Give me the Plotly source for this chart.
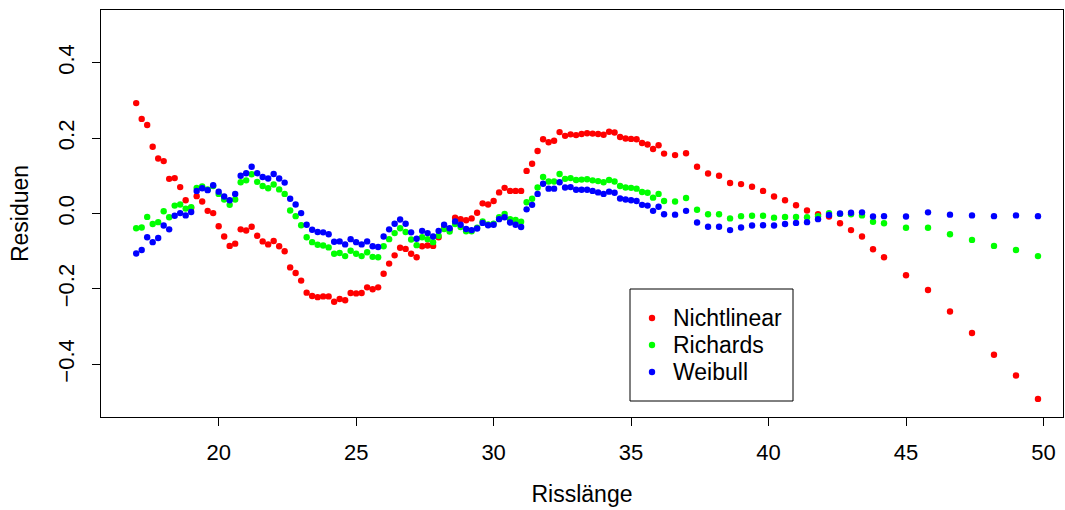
import plotly.graph_objects as go

# Risslänge values (x grid)
risslaenge = [
    17.0, 17.2, 17.4, 17.6, 17.8, 18.0, 18.2, 18.4, 18.6, 18.8,
    19.0, 19.2, 19.4, 19.6, 19.8, 20.0, 20.2, 20.4, 20.6, 20.8,
    21.0, 21.2, 21.4, 21.6, 21.8, 22.0, 22.2, 22.4, 22.6, 22.8,
    23.0, 23.2, 23.4, 23.6, 23.8, 24.0, 24.2, 24.4, 24.6, 24.8,
    25.0, 25.2, 25.4, 25.6, 25.8, 26.0, 26.2, 26.4, 26.6, 26.8,
    27.0, 27.2, 27.4, 27.6, 27.8, 28.0, 28.2, 28.4, 28.6, 28.8,
    29.0, 29.2, 29.4, 29.6, 29.8, 30.0, 30.2, 30.4, 30.6, 30.8,
    31.0, 31.2, 31.4, 31.6, 31.8, 32.0, 32.2, 32.4, 32.6, 32.8,
    33.0, 33.2, 33.4, 33.6, 33.8, 34.0, 34.2, 34.4, 34.6, 34.8,
    35.0, 35.2, 35.4, 35.6, 35.8, 36.0, 36.2,
    36.6, 37.0, 37.4, 37.8, 38.2, 38.6, 39.0, 39.4, 39.8, 40.2,
    40.6, 41.0, 41.4, 41.8, 42.2, 42.6, 43.0, 43.4, 43.8, 44.2,
    45.0, 45.8, 46.6, 47.4, 48.2, 49.0, 49.8,
]

nichtlinear = [
    0.293, 0.251, 0.235, 0.177, 0.146, 0.139, 0.092, 0.094, 0.070, 0.035,
    0.015, 0.046, 0.032, 0.007, 0.001, -0.034, -0.061, -0.086, -0.080, -0.042,
    -0.045, -0.035, -0.059, -0.074, -0.082, -0.073, -0.087, -0.100, -0.143, -0.158,
    -0.178, -0.210, -0.219, -0.222, -0.220, -0.220, -0.234, -0.227, -0.230, -0.211,
    -0.212, -0.211, -0.196, -0.201, -0.196, -0.160, -0.133, -0.111, -0.091, -0.094,
    -0.107, -0.116, -0.087, -0.085, -0.086, -0.063, -0.038, -0.042, -0.011, -0.015,
    -0.018, -0.013, 0.002, 0.027, 0.024, 0.033, 0.056, 0.068, 0.060, 0.060,
    0.060, 0.113, 0.132, 0.166, 0.197, 0.189, 0.193, 0.216, 0.206, 0.210,
    0.208, 0.211, 0.213, 0.212, 0.211, 0.209, 0.217, 0.215, 0.203, 0.199,
    0.198, 0.197, 0.187, 0.183, 0.171, 0.181, 0.159,
    0.155, 0.160, 0.124, 0.106, 0.100, 0.081, 0.078, 0.071, 0.060, 0.045,
    0.035, 0.022, 0.008, -0.002, -0.008, -0.026, -0.044, -0.061, -0.095, -0.116,
    -0.164, -0.203, -0.260, -0.317, -0.375, -0.430, -0.492,
]

richards = [
    -0.039, -0.037, -0.009, -0.028, -0.023, 0.006, -0.010, 0.021, 0.024, 0.013,
    0.017, 0.068, 0.072, 0.064, 0.073, 0.052, 0.037, 0.023, 0.037, 0.083,
    0.088, 0.104, 0.084, 0.073, 0.067, 0.077, 0.064, 0.052, 0.008, -0.007,
    -0.031, -0.063, -0.076, -0.083, -0.085, -0.090, -0.107, -0.105, -0.113, -0.099,
    -0.107, -0.113, -0.103, -0.115, -0.116, -0.087, -0.068, -0.052, -0.039, -0.049,
    -0.069, -0.084, -0.063, -0.068, -0.076, -0.059, -0.041, -0.048, -0.028, -0.036,
    -0.047, -0.047, -0.038, -0.021, -0.029, -0.027, -0.010, -0.001, -0.015, -0.017,
    -0.022, 0.030, 0.039, 0.069, 0.097, 0.085, 0.085, 0.105, 0.092, 0.094,
    0.089, 0.090, 0.091, 0.088, 0.086, 0.083, 0.089, 0.085, 0.073, 0.069,
    0.068, 0.066, 0.057, 0.055, 0.042, 0.052, 0.033,
    0.032, 0.041, 0.010, -0.002, -0.002, -0.013, -0.007, -0.006, -0.006, -0.011,
    -0.009, -0.009, -0.010, -0.007, 0.001, -0.001, -0.002, -0.005, -0.022, -0.026,
    -0.038, -0.038, -0.055, -0.070, -0.086, -0.097, -0.113,
]

weibull = [
    -0.106, -0.097, -0.063, -0.076, -0.065, -0.032, -0.042, -0.006, 0.001, -0.005,
    0.004, 0.060, 0.067, 0.062, 0.075, 0.058, 0.045, 0.035, 0.052, 0.100,
    0.107, 0.124, 0.107, 0.097, 0.093, 0.105, 0.093, 0.082, 0.039, 0.024,
    0.001, -0.030, -0.043, -0.049, -0.050, -0.055, -0.075, -0.074, -0.082, -0.068,
    -0.076, -0.082, -0.074, -0.087, -0.089, -0.061, -0.042, -0.027, -0.016, -0.027,
    -0.050, -0.067, -0.046, -0.052, -0.061, -0.046, -0.030, -0.039, -0.021, -0.030,
    -0.041, -0.044, -0.040, -0.025, -0.031, -0.030, -0.015, -0.010, -0.024, -0.030,
    -0.036, 0.011, 0.023, 0.052, 0.079, 0.066, 0.066, 0.083, 0.069, 0.070,
    0.063, 0.063, 0.063, 0.060, 0.056, 0.052, 0.058, 0.055, 0.040, 0.037,
    0.035, 0.033, 0.023, 0.021, 0.007, 0.018, -0.002,
    -0.003, 0.007, -0.024, -0.035, -0.035, -0.044, -0.037, -0.032, -0.031, -0.032,
    -0.028, -0.025, -0.023, -0.015, -0.004, 0.000, 0.002, 0.003, -0.008, -0.007,
    -0.008, 0.003, -0.003, -0.005, -0.007, -0.005, -0.007,
]

series_names = ["Nichtlinear", "Richards", "Weibull"]
series_colors = ["#FF0000", "#00FF00", "#0000FF"]
x_ticks = [20, 25, 30, 35, 40, 45, 50]
y_ticks = [-0.4, -0.2, 0.0, 0.2, 0.4]
y_ticktext = ["\u22120.4", "\u22120.2", "0.0", "0.2", "0.4"]

FONT = "Liberation Sans, Arial, Helvetica, sans-serif"
FS = 22      # tick labels
FS_T = 23    # axis titles and legend

W, H = 1065, 510
ML, MR, MT, MB = 101, 2, 10, 93
PW, PH = W - ML - MR, H - MT - MB


def px_x(p):
    return (p - ML) / PW


def px_y(p):
    return (H - MB - p) / PH


fig = go.Figure()
for name, vals, col in zip(series_names, [nichtlinear, richards, weibull], series_colors):
    fig.add_trace(go.Scatter(
        x=risslaenge, y=vals, mode="markers", name=name,
        marker=dict(color=col, size=6.4, line=dict(width=0)),
        showlegend=False,
    ))

# legend box (R-style) drawn in paper coordinates
shapes = [dict(type="rect", xref="paper", yref="paper",
               x0=px_x(630), x1=px_x(793), y0=px_y(401), y1=px_y(289),
               line=dict(color="black", width=1), fillcolor="white", layer="above")]
annotations = []
row_y = [318, 345, 372]
for name, col, ry in zip(series_names, series_colors, row_y):
    r = 3.2
    shapes.append(dict(type="circle", xref="paper", yref="paper",
                       x0=px_x(652 - r), x1=px_x(652 + r),
                       y0=px_y(ry + r), y1=px_y(ry - r),
                       line=dict(width=0), fillcolor=col, layer="above"))
    annotations.append(dict(xref="paper", yref="paper", x=px_x(671), y=px_y(ry),
                            xanchor="left", yanchor="middle", text=name,
                            showarrow=False,
                            font=dict(family=FONT, size=FS_T, color="black")))

fig.update_layout(
    width=W, height=H,
    margin=dict(l=ML, r=MR, t=MT, b=MB),
    paper_bgcolor="white", plot_bgcolor="white",
    font=dict(family=FONT, size=FS, color="black"),
    showlegend=False,
    shapes=shapes, annotations=annotations,
)
fig.update_xaxes(
    range=[15.72, 50.71], tickvals=x_ticks,
    ticks="outside", ticklen=8, tickwidth=1, tickcolor="black",
    ticklabelstandoff=8,
    showline=True, linecolor="black", linewidth=1, mirror=True,
    showgrid=False, zeroline=False,
    title=dict(text="Risslänge", font=dict(family=FONT, size=FS_T), standoff=21),
    tickfont=dict(family=FONT, size=FS),
)
fig.update_yaxes(
    range=[-0.54, 0.54], tickvals=y_ticks, ticktext=y_ticktext,
    tickangle=-90,
    ticks="outside", ticklen=8, tickwidth=1, tickcolor="black",
    ticklabelstandoff=9,
    showline=True, linecolor="black", linewidth=1, mirror=True,
    showgrid=False, zeroline=False,
    title=dict(text="Residuen", font=dict(family=FONT, size=FS_T), standoff=19),
    tickfont=dict(family=FONT, size=FS),
)

fig.write_html("out.html")
